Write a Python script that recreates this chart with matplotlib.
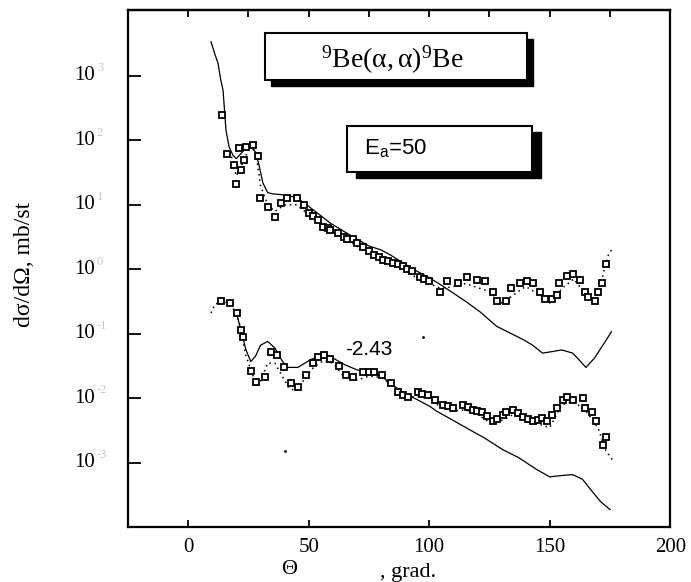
import matplotlib
matplotlib.use("Agg")
import matplotlib.pyplot as plt
from matplotlib.patches import Rectangle

plt.rcParams['font.family'] = ['Liberation Serif', 'DejaVu Serif']
plt.rcParams['mathtext.fontset'] = 'custom'
plt.rcParams['mathtext.rm'] = 'Liberation Serif'
plt.rcParams['mathtext.it'] = 'Liberation Serif'
plt.rcParams['mathtext.sf'] = 'Liberation Sans'

# upper set: experiment (squares), theory (solid), second fit (dots)
up_exp_x = [14, 16, 19, 20, 21, 22, 23, 24, 27, 29, 30, 33, 36, 38.5, 41, 45, 48, 50,
            52, 54, 56, 58, 59, 62, 64.5, 66, 68.6, 70, 72.7, 75, 77, 79, 81, 83, 85,
            87, 89, 91, 93, 96, 98, 100, 104.5,
            107.4, 112, 115.7, 120, 123, 126.4, 128, 132, 134, 137.6, 140.5, 143,
            146, 148, 151, 153, 154, 157, 159.5, 162.4, 164.5, 166, 168.6, 170,
            171.5, 173.5]
up_exp_y = [251, 62, 42, 21, 76, 35, 50, 79, 85, 58, 13, 9.3, 6.5, 10.7, 13, 13, 10, 7.6,
            6.8, 5.9, 4.6, 4.3, 4.1, 3.7, 3.2, 3.0, 2.9, 2.6, 2.2, 1.9, 1.66, 1.55, 1.41,
            1.33, 1.26, 1.2, 1.12, 1.0, 0.93, 0.76, 0.7, 0.65, 0.45,
            0.65, 0.62, 0.76, 0.69, 0.65, 0.45, 0.32, 0.32, 0.51, 0.62, 0.65, 0.62,
            0.45, 0.34, 0.34, 0.40, 0.62, 0.78, 0.83, 0.69, 0.45, 0.37, 0.32, 0.44,
            0.62, 1.2]

up_th_x = [9.5, 11, 12.4, 13.5, 14.5, 15.7, 17, 18.6, 20, 22, 24, 26, 28, 29.5, 31, 33,
           35, 38, 41, 45, 50, 55, 59, 65, 70, 75, 80, 84, 90, 95, 100, 104, 108.7,
           115, 121, 128, 133, 139, 143, 147, 150, 155, 159.5, 162, 165, 168.6, 172, 175.6]
up_th_y = [3400, 2240, 1580, 890, 600, 145, 79, 59, 52, 63, 76, 79, 66, 40, 22, 15.5,
           14.8, 14.5, 14, 13, 9.5, 6.8, 5.2, 3.8, 2.95, 2.3, 2.0, 1.66, 1.2, 0.93, 0.74,
           0.60, 0.46, 0.32, 0.22, 0.13, 0.105, 0.081, 0.066, 0.050, 0.052, 0.056,
           0.050, 0.040, 0.030, 0.042, 0.066, 0.107]

up_fit_x = [18, 20, 22, 25, 28, 30, 33, 36, 40, 45, 50, 55, 60, 65, 70, 75, 80, 85, 90,
            95, 100, 105, 110, 115, 120, 125, 130, 135, 140, 145, 150, 155, 160, 165,
            170, 172, 174, 176]
up_fit_y = [56, 28, 40, 71, 71, 20, 10, 7.9, 10, 10, 7.1, 5.0, 3.8, 2.95, 2.3, 1.78,
            1.35, 1.12, 0.91, 0.74, 0.60, 0.50, 0.54, 0.60, 0.52, 0.45, 0.30, 0.40,
            0.54, 0.42, 0.30, 0.50, 0.71, 0.40, 0.40, 0.79, 1.58, 2.1]

# lower set (shifted by 10^-2.43)
lo_exp_x = [13.6, 17.4, 20.2, 22, 22.7, 26, 28, 32, 34.3, 37, 39.7, 42.5, 45.5, 48.8,
            51.7, 53.7, 56.2, 59, 62.4, 65.3, 68.6, 72.7, 75, 77, 80.6, 84, 87, 89, 91.3,
            95.5, 97, 99.6, 102.5, 105.8, 108, 110, 114, 116, 118, 120, 122, 124, 126.4,
            128, 130.6, 132, 134.7, 137, 139, 141, 143, 145, 147,
            149, 151, 153, 155.4, 157, 159.5, 163.6, 164.5, 167.4, 169.4, 172, 173.5]
lo_exp_y = [0.32, 0.30, 0.21, 0.115, 0.089, 0.026, 0.018, 0.021, 0.052, 0.047, 0.030,
            0.0174, 0.0151, 0.023, 0.035, 0.043, 0.047, 0.040, 0.031, 0.023, 0.021,
            0.025, 0.025, 0.025, 0.023, 0.0174, 0.0126, 0.011, 0.0105, 0.0123, 0.0118,
            0.0112, 0.0095, 0.0079, 0.0075, 0.0071, 0.0079, 0.0072, 0.0066, 0.0064,
            0.0062, 0.0052, 0.0044, 0.0048, 0.0055, 0.006, 0.0066, 0.0058, 0.0051,
            0.0047, 0.0044, 0.0046, 0.0050, 0.0044, 0.0055, 0.0071, 0.0095, 0.0105,
            0.0095, 0.0102, 0.0071, 0.0060, 0.0044, 0.0019, 0.0025]

lo_th_x = [20, 22, 24, 26, 28, 30, 33, 36, 39, 41, 45.5, 51, 56, 60, 65, 70, 75, 80, 85,
           90, 95, 100.4, 103, 110, 117, 123, 130.6, 137, 144.6, 150, 155, 159.5, 163.6,
           167, 171, 175]
lo_th_y = [0.21, 0.112, 0.056, 0.037, 0.045, 0.066, 0.076, 0.060, 0.038, 0.030, 0.030,
           0.040, 0.046, 0.042, 0.033, 0.0275, 0.025, 0.022, 0.0158, 0.0117, 0.0095,
           0.0074, 0.0063, 0.0045, 0.0032, 0.0024, 0.00158, 0.0012, 0.00078, 0.0006,
           0.00063, 0.00065, 0.00055, 0.00038, 0.00025, 0.000186]

lo_fit_x = [9.5, 11, 14, 18, 21, 24, 27, 30, 33, 36, 39, 42, 45, 48, 52, 56, 60, 65, 70,
            75, 80, 85, 90, 95, 100, 105, 110, 115, 120, 125, 130, 135, 140, 145, 150,
            155, 160, 165, 170, 173, 176]
lo_fit_y = [0.21, 0.28, 0.33, 0.28, 0.16, 0.045, 0.022, 0.018, 0.035, 0.035, 0.022,
            0.014, 0.013, 0.019, 0.030, 0.038, 0.035, 0.021, 0.019, 0.022, 0.021, 0.0158,
            0.0105, 0.0105, 0.010, 0.0071, 0.0063, 0.0066, 0.0056, 0.0042, 0.0045,
            0.0056, 0.0045, 0.0040, 0.0035, 0.0079, 0.0089, 0.0063, 0.0035, 0.0016, 0.0011]

stray_x = [40, 97.5]
stray_y = [0.0015, 0.089]

xticks = [0, 50, 100, 150, 200]
ytick_exp = [-3, -2, -1, 0, 1, 2, 3]

fig = plt.figure(figsize=(6.91, 5.82), dpi=100)
ax = fig.add_axes([0.185, 0.0945, 0.785, 0.888])
ax.set_yscale('log')
ax.set_xlim(-25, 200)
ax.set_ylim(1e-4, 1.05e4)

for xs, ys in [(up_th_x, up_th_y), (lo_th_x, lo_th_y)]:
    ax.plot(xs, ys, '-', color='black', lw=0.9)
for xs, ys in [(up_fit_x, up_fit_y), (lo_fit_x, lo_fit_y)]:
    ax.plot(xs, ys, linestyle=(0, (1, 2.5)), color='black', lw=1.1)
ax.plot(stray_x, stray_y, '.', color='black', ms=2)
for xs, ys in [(up_exp_x, up_exp_y), (lo_exp_x, lo_exp_y)]:
    ax.plot(xs, ys, 's', mfc='white', mec='black', mew=1.3, ms=5, ls='none')

for s in ax.spines.values():
    s.set_linewidth(1.6)

ax.set_xticks(xticks)
ax.set_xticklabels([str(t) for t in xticks], fontsize=15)
ax.tick_params(axis='x', direction='in', length=5, width=1.3, pad=8, top=False)
sec = ax.secondary_xaxis('top')
sec.set_xticks([0, 25, 50, 75, 100, 125, 150, 175])
sec.tick_params(direction='in', length=5, width=1.3, labeltop=False)
sec.spines['top'].set_linewidth(1.6)

ax.set_yticks([10.0 ** e for e in ytick_exp])
ax.set_yticklabels([])
ax.minorticks_off()
ax.tick_params(axis='y', direction='in', length=9, width=1.3, right=False)
ytr = ax.get_yaxis_transform()
for e in ytick_exp:
    ax.text(-0.06, 10.0 ** e, '10', transform=ytr, ha='right', va='center', fontsize=15)
    ax.text(-0.057, 10.0 ** (e + 0.12), str(e), transform=ytr, ha='left', va='center',
            fontsize=9, color='#c8c8c8')

fig.text(0.035, 0.545, 'dσ/dΩ, mb/st', rotation=90, ha='center', va='center', fontsize=17)
fig.text(0.418, 0.022, 'Θ', ha='center', va='center', fontsize=16)
fig.text(0.59, 0.016, ', grad.', ha='center', va='center', fontsize=16)

# shadowed boxes (figure pixel coordinates)
W, H = 691.0, 582.0
def shadow_box(x0, y0, x1, y1, dx, dy):
    fig.patches.append(Rectangle((((x0 + dx) / W), 1 - (y1 + dy) / H), (x1 - x0) / W,
                                 (y1 - y0) / H, transform=fig.transFigure,
                                 facecolor='black', edgecolor='black', zorder=5))
    fig.patches.append(Rectangle((x0 / W, 1 - y1 / H), (x1 - x0) / W, (y1 - y0) / H,
                                 transform=fig.transFigure, facecolor='white',
                                 edgecolor='black', lw=1.5, zorder=6))

shadow_box(265, 33, 527, 80, 6, 6)
shadow_box(347, 126, 532, 172, 9, 6)
fig.text(392 / W, 1 - 60 / H, r'$^{9}\mathrm{Be}(\alpha,\alpha)^{9}\mathrm{Be}$',
         ha='center', va='center', fontsize=20, zorder=7)
fig.text(364 / W, 1 - 148 / H, r'E$_{\mathsf{a}}$=50', family='Liberation Sans',
         ha='left', va='center', fontsize=16, zorder=7)
ax.text(65, 0.056, '-2.43', family='Liberation Sans', fontsize=15, ha='left', va='center')

fig.savefig('out.png', dpi=100)
